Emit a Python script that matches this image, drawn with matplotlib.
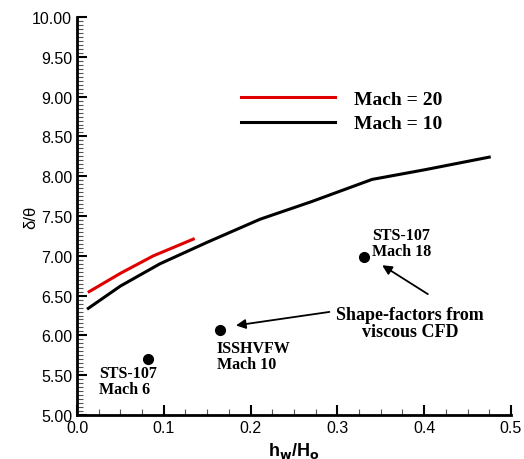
import matplotlib
matplotlib.use("Agg")
import matplotlib.pyplot as plt
from matplotlib.ticker import MultipleLocator, FormatStrFormatter

# Data
mach10_x = [0.013, 0.05, 0.0956, 0.15, 0.211, 0.27, 0.30, 0.34, 0.40, 0.475]
mach10_y = [6.34, 6.62, 6.90, 7.17, 7.46, 7.68, 7.80, 7.96, 8.08, 8.24]
mach20_x = [0.014, 0.05, 0.088, 0.11, 0.134]
mach20_y = [6.55, 6.78, 7.00, 7.10, 7.21]
pts_x = [0.082, 0.165, 0.331]
pts_y = [5.70, 6.07, 6.99]
pts_labels = ["STS-107\nMach 6", "ISSHVFW\nMach 10", "STS-107\nMach 18"]

fig = plt.figure(figsize=(5.24, 4.60), dpi=100)
ax = fig.add_axes([0.147, 0.0957, 0.828, 0.865])

ax.plot(mach20_x, mach20_y, color="#e00000", lw=2.2, label="Mach = 20")
ax.plot(mach10_x, mach10_y, color="black", lw=2.2, label="Mach = 10")
ax.plot(pts_x, pts_y, "o", color="black", ms=7)

ax.set_xlim(0, 0.5)
ax.set_ylim(5.0, 10.0)
ax.xaxis.set_major_locator(MultipleLocator(0.1))
ax.xaxis.set_minor_locator(MultipleLocator(0.025))
ax.yaxis.set_major_locator(MultipleLocator(0.5))
ax.yaxis.set_minor_locator(MultipleLocator(0.05))
ax.xaxis.set_major_formatter(FormatStrFormatter("%.1f"))
ax.yaxis.set_major_formatter(FormatStrFormatter("%.2f"))
ax.tick_params(which="major", direction="in", length=7, width=1.5, labelsize=11.5)
ax.tick_params(which="minor", direction="in", length=4, width=0.8, color="#555555")
for lbl in ax.get_xticklabels() + ax.get_yticklabels():
    lbl.set_fontfamily("Liberation Sans")
ax.spines["top"].set_visible(False)
ax.spines["right"].set_visible(False)
ax.spines["left"].set_linewidth(2)
ax.spines["bottom"].set_linewidth(2)

ax.set_xlabel("h$_\\mathbf{w}$/H$_\\mathbf{o}$", fontsize=13, fontweight="bold", family="Liberation Sans")
ax.set_ylabel("δ/θ", fontsize=12, family="Liberation Sans")
ax.yaxis.set_label_coords(-0.09, 0.5)

serif = dict(family="Liberation Serif", fontweight="bold", fontsize=11.5, linespacing=1.0)
ax.text(0.025, 5.22, pts_labels[0], ha="left", va="bottom", **serif)
ax.text(0.161, 5.54, pts_labels[1], ha="left", va="bottom", **serif)
ax.text(0.340, 6.96, pts_labels[2], ha="left", va="bottom", **serif)

ax.text(0.384, 5.94, "Shape-factors from\nviscous CFD", ha="center", va="bottom",
        family="Liberation Serif", fontweight="bold", fontsize=13, linespacing=1.0)
arrowprops = dict(arrowstyle="-|>", color="black", lw=1.3, mutation_scale=14)
ax.annotate("", xy=(0.180, 6.12), xytext=(0.294, 6.30), arrowprops=arrowprops)
ax.annotate("", xy=(0.349, 6.90), xytext=(0.407, 6.50), arrowprops=arrowprops)

leg = ax.legend(loc="upper left", bbox_to_anchor=(0.338, 0.86), frameon=False,
                handlelength=4.8, handletextpad=1.0, labelspacing=0.35,
                prop=dict(family="Liberation Serif", weight="bold", size=14))

fig.savefig("out.png", dpi=100)
